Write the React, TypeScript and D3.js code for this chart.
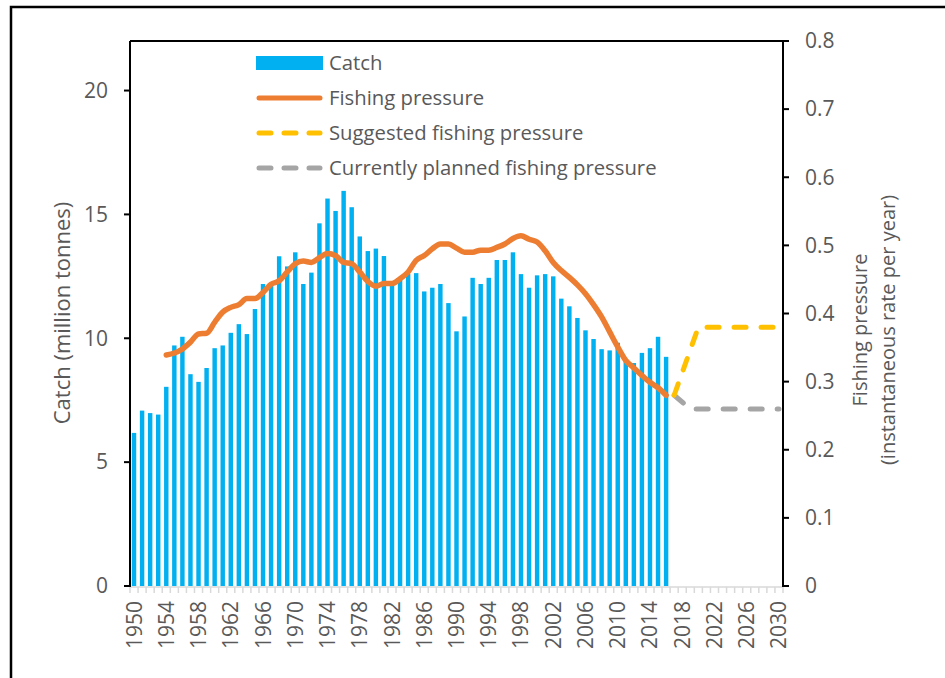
import React, { useEffect, useRef } from 'react';
import * as d3 from 'd3';

// categories: one per year on the x axis
const years: number[] = d3.range(1950, 2031);

// catch in million tonnes, 1950-2016
const catchYears: number[] = d3.range(1950, 2017);
const catchValues: number[] = [
  6.18, 7.08, 6.98, 6.92, 8.04, 9.71, 10.06, 8.55, 8.24, 8.8,
  9.6, 9.71, 10.22, 10.57, 10.17, 11.18, 12.19, 12.12, 13.31, 12.9,
  13.47, 12.19, 12.65, 14.64, 15.64, 15.14, 15.95, 15.29, 14.11, 13.52,
  13.62, 13.32, 12.3, 12.4, 12.6, 12.63, 11.89, 12.04, 12.19, 11.42,
  10.28, 10.88, 12.44, 12.19, 12.44, 13.16, 13.16, 13.47, 12.59, 12.04,
  12.54, 12.59, 12.5, 11.6, 11.29, 10.82, 10.32, 9.97, 9.56, 9.51,
  9.82, 9.1, 9.0, 9.41, 9.6, 10.06, 9.25,
];

// fishing pressure (instantaneous rate per year), 1954-2016
const pressureYears: number[] = d3.range(1954, 2017);
const pressureValues: number[] = [
  0.339, 0.342, 0.348, 0.358, 0.37, 0.371, 0.387, 0.402, 0.409, 0.413,
  0.422, 0.422, 0.431, 0.443, 0.448, 0.461, 0.473, 0.477, 0.475, 0.482,
  0.488, 0.485, 0.475, 0.473, 0.461, 0.447, 0.44, 0.444, 0.444, 0.451,
  0.461, 0.478, 0.485, 0.495, 0.502, 0.502, 0.496, 0.49, 0.49, 0.493,
  0.493, 0.497, 0.502, 0.51, 0.514, 0.509, 0.505, 0.492, 0.475, 0.463,
  0.453, 0.442, 0.429, 0.413, 0.395, 0.373, 0.351, 0.331, 0.32, 0.309,
  0.299, 0.291, 0.28,
];

const suggestedYears: number[] = [2017, 2020, 2030];
const suggestedValues: number[] = [0.28, 0.38, 0.38];

const plannedYears: number[] = [2017, 2019, 2030];
const plannedValues: number[] = [0.28, 0.26, 0.26];

const leftTicks: number[] = [0, 5, 10, 15, 20];
const rightTicks: number[] = [0, 0.1, 0.2, 0.3, 0.4, 0.5, 0.6, 0.7, 0.8];
const xLabelYears: number[] = d3.range(1950, 2031, 4);

const legendItems = [
  { label: 'Catch', kind: 'bar', color: '#00b0f0' },
  { label: 'Fishing pressure', kind: 'line', color: '#ed7d31' },
  { label: 'Suggested fishing pressure', kind: 'dash', color: '#ffc000' },
  { label: 'Currently planned fishing pressure', kind: 'dash', color: '#a5a5a5' },
];

const FONT = '"Open Sans", "DejaVu Sans", sans-serif';
const TEXT = '#595959';

const App: React.FC = () => {
  const svgRef = useRef<SVGSVGElement>(null);

  useEffect(() => {
    if (!svgRef.current) return;
    const svg = d3.select(svgRef.current);
    svg.selectAll('*').remove();

    const left = 130;
    const right = 783;
    const top = 41;
    const bottom = 586;

    const x = d3.scaleBand<number>()
      .domain(years)
      .range([left, right])
      .paddingInner(0.45)
      .paddingOuter(0.225);
    const cx = (yr: number) => (x(yr) as number) + x.bandwidth() / 2;
    const step = x.step();

    const yL = d3.scaleLinear().domain([0, 22]).range([bottom, top]);
    const yR = d3.scaleLinear().domain([0, 0.8]).range([bottom, top]);

    // outer frame
    svg.append('rect')
      .attr('x', 11).attr('y', 7)
      .attr('width', 1000).attr('height', 1000)
      .attr('fill', 'none').attr('stroke', '#000').attr('stroke-width', 2.5);

    // bars
    svg.append('g')
      .selectAll('rect')
      .data(catchYears)
      .join('rect')
      .attr('x', d => x(d) as number)
      .attr('width', x.bandwidth())
      .attr('y', (d, i) => yL(catchValues[i]))
      .attr('height', (d, i) => bottom - yL(catchValues[i]))
      .attr('fill', '#00b0f0');

    // x axis (light grey with category ticks)
    const xAxis = svg.append('g');
    xAxis.append('line')
      .attr('x1', left).attr('x2', right)
      .attr('y1', bottom + 1).attr('y2', bottom + 1)
      .attr('stroke', '#d9d9d9').attr('stroke-width', 1.5);
    xAxis.selectAll('line.tk')
      .data(d3.range(years.length + 1))
      .join('line')
      .attr('class', 'tk')
      .attr('x1', i => left + i * step).attr('x2', i => left + i * step)
      .attr('y1', bottom + 1).attr('y2', bottom + 7)
      .attr('stroke', '#d9d9d9').attr('stroke-width', 1.5);
    xAxis.selectAll('text')
      .data(xLabelYears)
      .join('text')
      .attr('transform', d => `translate(${cx(d) + 7.5},601) rotate(-90)`)
      .attr('text-anchor', 'end')
      .attr('font-family', FONT)
      .attr('font-size', 21)
      .attr('fill', TEXT)
      .text(d => String(d));

    // left axis
    const gl = svg.append('g');
    gl.append('line')
      .attr('x1', left).attr('x2', left).attr('y1', top).attr('y2', bottom + 1)
      .attr('stroke', '#000').attr('stroke-width', 2);
    gl.selectAll('line.tk')
      .data(leftTicks)
      .join('line')
      .attr('class', 'tk')
      .attr('x1', left - 6).attr('x2', left)
      .attr('y1', d => yL(d)).attr('y2', d => yL(d))
      .attr('stroke', '#000').attr('stroke-width', 2);
    gl.selectAll('text')
      .data(leftTicks)
      .join('text')
      .attr('x', 108)
      .attr('y', d => yL(d))
      .attr('dy', '0.35em')
      .attr('text-anchor', 'end')
      .attr('font-family', FONT)
      .attr('font-size', 21)
      .attr('fill', TEXT)
      .text(d => String(d));

    // top frame line
    svg.append('line')
      .attr('x1', left).attr('x2', right).attr('y1', top).attr('y2', top)
      .attr('stroke', '#000').attr('stroke-width', 2);

    // right axis
    const gr = svg.append('g');
    gr.append('line')
      .attr('x1', right).attr('x2', right).attr('y1', top).attr('y2', bottom + 1)
      .attr('stroke', '#000').attr('stroke-width', 2);
    gr.selectAll('line.tk')
      .data(rightTicks)
      .join('line')
      .attr('class', 'tk')
      .attr('x1', right).attr('x2', right + 6)
      .attr('y1', d => yR(d)).attr('y2', d => yR(d))
      .attr('stroke', '#000').attr('stroke-width', 2);
    gr.selectAll('text')
      .data(rightTicks)
      .join('text')
      .attr('x', 805)
      .attr('y', d => yR(d))
      .attr('dy', '0.35em')
      .attr('font-family', FONT)
      .attr('font-size', 21)
      .attr('fill', TEXT)
      .text(d => (d === 0 ? '0' : d.toFixed(1)));

    // lines
    const line = d3.line<[number, number]>()
      .x(d => cx(d[0]))
      .y(d => yR(d[1]))
      .curve(d3.curveMonotoneX);

    const dashed = d3.line<[number, number]>()
      .x(d => cx(d[0]))
      .y(d => yR(d[1]));

    svg.append('path')
      .datum(plannedYears.map((yr, i) => [yr, plannedValues[i]] as [number, number]))
      .attr('d', dashed)
      .attr('fill', 'none')
      .attr('stroke', '#a5a5a5')
      .attr('stroke-width', 5)
      .attr('stroke-linecap', 'round')
      .attr('stroke-linejoin', 'round')
      .attr('stroke-dasharray', '12 15');

    svg.append('path')
      .datum(suggestedYears.map((yr, i) => [yr, suggestedValues[i]] as [number, number]))
      .attr('d', dashed)
      .attr('fill', 'none')
      .attr('stroke', '#ffc000')
      .attr('stroke-width', 5)
      .attr('stroke-linecap', 'round')
      .attr('stroke-linejoin', 'round')
      .attr('stroke-dasharray', '12 15');

    svg.append('path')
      .datum(pressureYears.map((yr, i) => [yr, pressureValues[i]] as [number, number]))
      .attr('d', line)
      .attr('fill', 'none')
      .attr('stroke', '#ed7d31')
      .attr('stroke-width', 5.5)
      .attr('stroke-linecap', 'round')
      .attr('stroke-linejoin', 'round');

    // axis titles
    svg.append('text')
      .attr('transform', `translate(70,313) rotate(-90)`)
      .attr('text-anchor', 'middle')
      .attr('font-family', FONT)
      .attr('font-size', 22)
      .attr('fill', TEXT)
      .text('Catch (million tonnes)');

    const rt = svg.append('text')
      .attr('transform', `translate(867,330) rotate(-90)`)
      .attr('text-anchor', 'middle')
      .attr('font-family', FONT)
      .attr('font-size', 20)
      .attr('fill', TEXT);
    rt.append('tspan').attr('x', 0).attr('dy', 0).text('Fishing pressure');
    rt.append('tspan').attr('x', 0).attr('dy', 28).text('(instantaneous rate per year)');

    // legend
    const lg = svg.append('g')
      .selectAll('g')
      .data(legendItems)
      .join('g')
      .attr('transform', (d, i) => `translate(256,${63 + i * 35})`);

    lg.filter(d => d.kind === 'bar')
      .append('rect')
      .attr('x', 0).attr('y', -7)
      .attr('width', 67).attr('height', 14)
      .attr('fill', d => d.color);

    lg.filter(d => d.kind !== 'bar')
      .append('line')
      .attr('x1', 3).attr('x2', 64)
      .attr('y1', 0).attr('y2', 0)
      .attr('stroke', d => d.color)
      .attr('stroke-width', 5)
      .attr('stroke-linecap', 'round')
      .attr('stroke-dasharray', d => (d.kind === 'dash' ? '12 13' : null));

    lg.append('text')
      .attr('x', 73)
      .attr('y', 0)
      .attr('dy', '0.35em')
      .attr('font-family', FONT)
      .attr('font-size', 20.3)
      .attr('fill', TEXT)
      .text(d => d.label);
  }, []);

  return (
    <div style={{ position: 'absolute', left: 0, top: 0 }}>
      <svg ref={svgRef} width={945} height={678} style={{ display: 'block', background: '#fff' }} />
    </div>
  );
};

export default App;
